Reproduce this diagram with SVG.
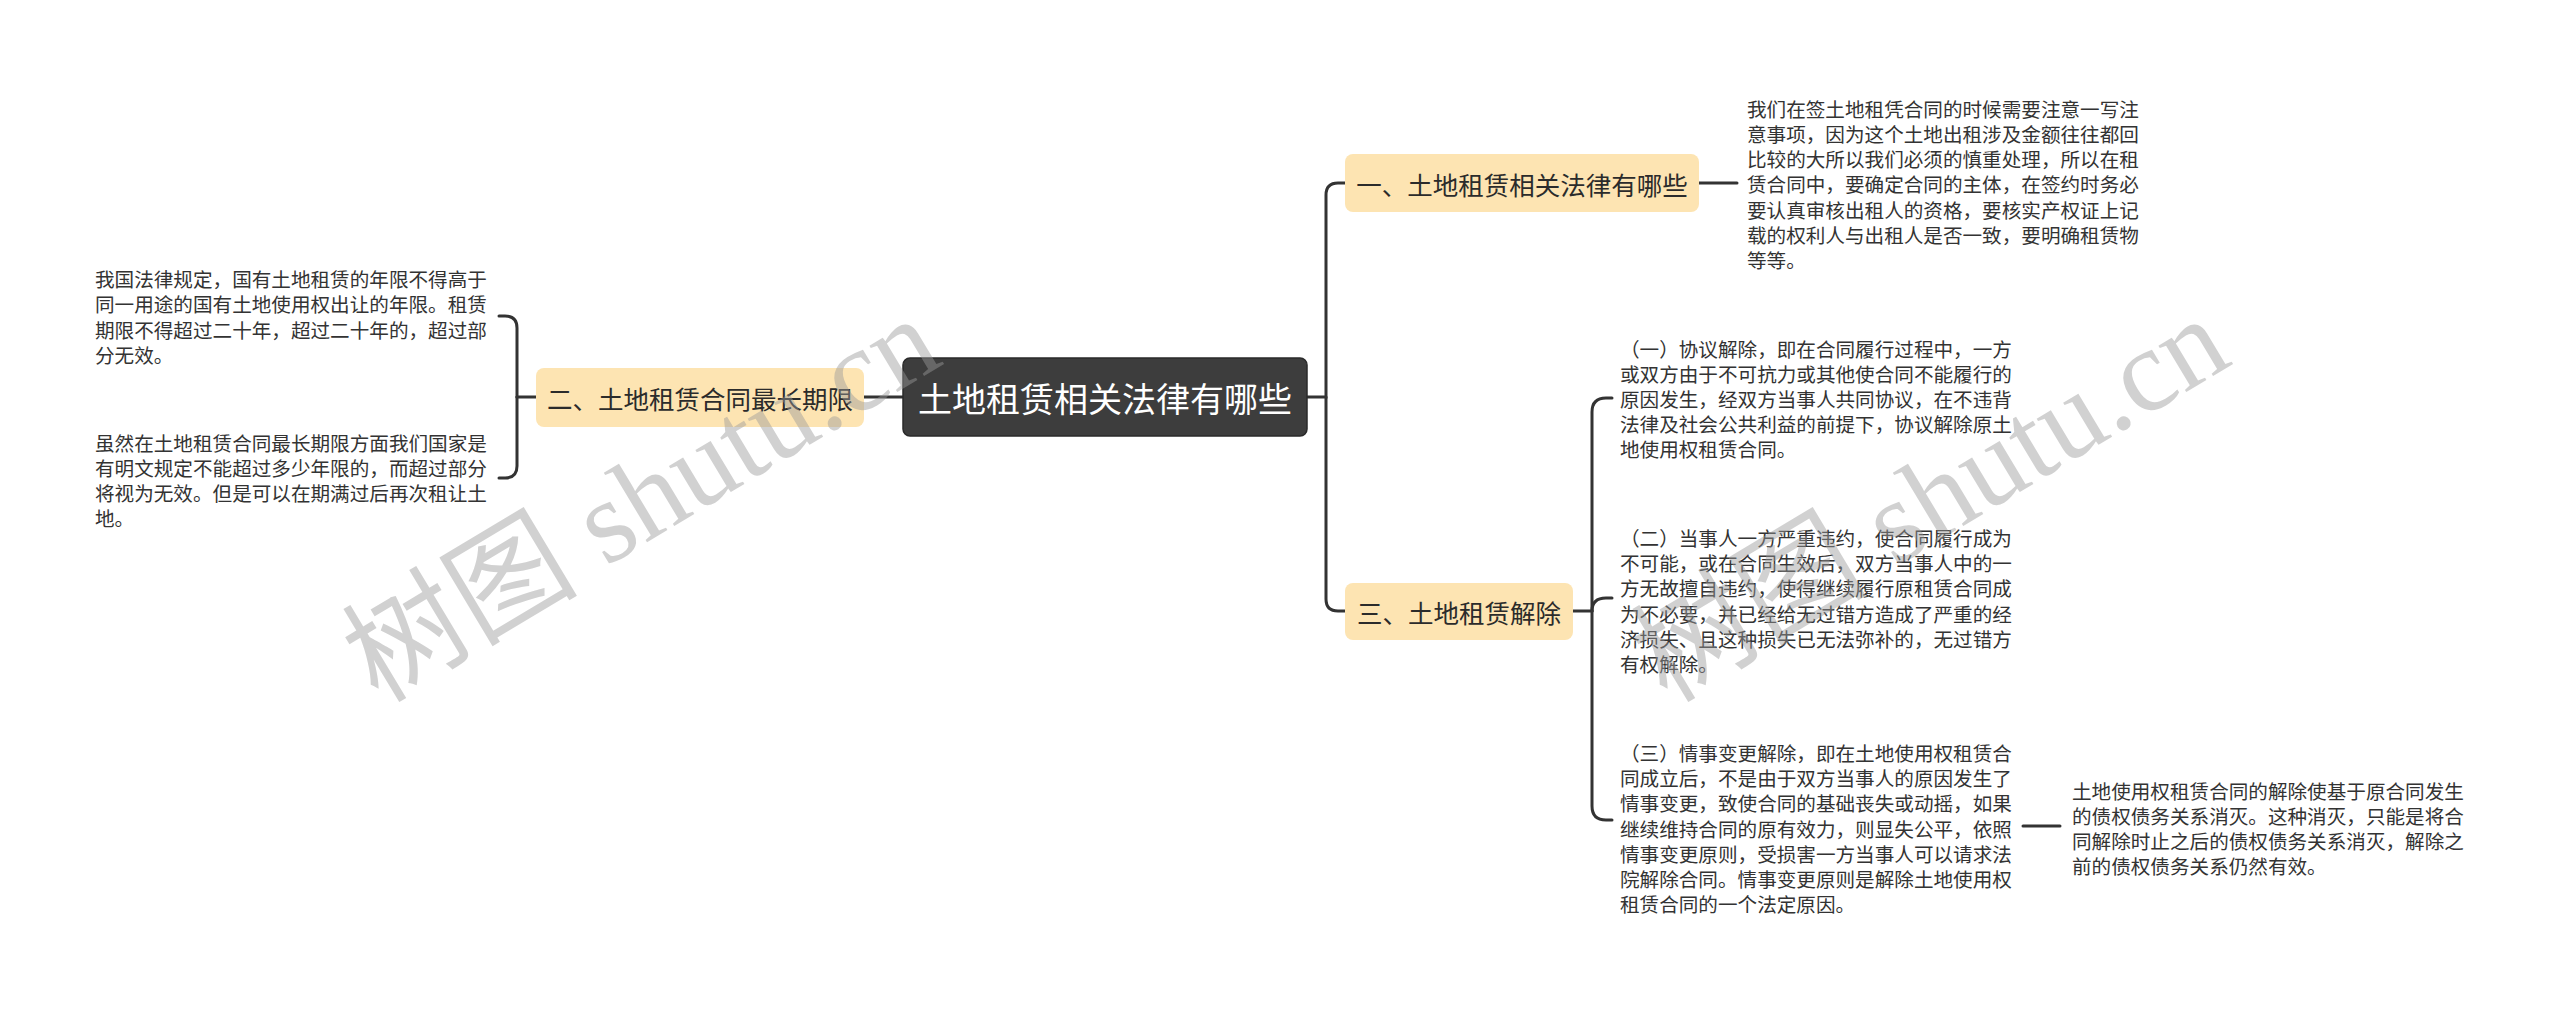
<svg xmlns="http://www.w3.org/2000/svg" width="2560" height="1009" viewBox="0 0 2560 1009">
<style>
.bg{fill:#ffffff}
.conn{fill:none;stroke:#333333;stroke-width:3;stroke-linecap:round}
.root{fill:#3d3d3d;stroke:#2a2a2a;stroke-width:1.5}
.main{fill:#fde4b2}
.t{font-family:"Noto Sans CJK SC","Noto Sans",sans-serif;dominant-baseline:central}
.rt{font-size:34px;fill:#ffffff;text-anchor:middle}
.mt{font-size:25.5px;fill:#2b2b2b;text-anchor:middle}
.bt{font-size:19.6px;fill:#333333}
.wm{font-family:"Liberation Serif","Noto Sans CJK SC",serif;font-size:118px;fill:#9a9a9a;opacity:0.45}
</style>
<rect class="bg" x="0" y="0" width="2560" height="1009"/>
<g id="connectors">
<path class="conn" d="M864 397 H903"/>
<path class="conn" d="M1307 397 H1326 V195 Q1326 183 1338 183 H1345"/>
<path class="conn" d="M1326 397 V599 Q1326 611 1338 611 H1345"/>
<path class="conn" d="M1699 183 H1737"/>
<path class="conn" d="M1573 611 H1592"/>
<path class="conn" d="M1592 611 V412 Q1592 398 1606 398 H1612"/>
<path class="conn" d="M1592 611 Q1592 598 1606 598 H1612"/>
<path class="conn" d="M1592 611 V806 Q1592 820 1606 820 H1612"/>
<path class="conn" d="M2023 826 H2060"/>
<path class="conn" d="M536 397 H517"/>
<path class="conn" d="M517 397 V328 Q517 316 505 316 H499"/>
<path class="conn" d="M517 397 V466 Q517 478 505 478 H499"/>
</g>
<g id="root">
<rect class="root" x="903" y="358" width="404" height="78" rx="7"/>
<text class="t rt" x="1105" y="397">土地租赁相关法律有哪些</text>
</g>
<g id="n1">
<rect class="main" x="1345" y="154" width="354" height="58" rx="8"/>
<text class="t mt" x="1522" y="183">一、土地租赁相关法律有哪些</text>
</g>
<g id="n2">
<rect class="main" x="536" y="368" width="328" height="59" rx="8"/>
<text class="t mt" x="700" y="397.5">二、土地租赁合同最长期限</text>
</g>
<g id="n3">
<rect class="main" x="1345" y="583" width="228" height="57" rx="8"/>
<text class="t mt" x="1459" y="611.5">三、土地租赁解除</text>
</g>
<g id="n1-1">
<text class="t bt" x="1747" y="107.8"><tspan x="1747">我们在签土地租凭合同的时候需要注意一写注</tspan><tspan x="1747" dy="25.2">意事项，因为这个土地出租涉及金额往往都回</tspan><tspan x="1747" dy="25.2">比较的大所以我们必须的慎重处理，所以在租</tspan><tspan x="1747" dy="25.2">赁合同中，要确定合同的主体，在签约时务必</tspan><tspan x="1747" dy="25.2">要认真审核出租人的资格，要核实产权证上记</tspan><tspan x="1747" dy="25.2">载的权利人与出租人是否一致，要明确租赁物</tspan><tspan x="1747" dy="25.2">等等。</tspan></text>
</g>
<g id="n2-1">
<text class="t bt" x="95" y="278.2"><tspan x="95">我国法律规定，国有土地租赁的年限不得高于</tspan><tspan x="95" dy="25.2">同一用途的国有土地使用权出让的年限。租赁</tspan><tspan x="95" dy="25.2">期限不得超过二十年，超过二十年的，超过部</tspan><tspan x="95" dy="25.2">分无效。</tspan></text>
</g>
<g id="n2-2">
<text class="t bt" x="95" y="441.7"><tspan x="95">虽然在土地租赁合同最长期限方面我们国家是</tspan><tspan x="95" dy="25.2">有明文规定不能超过多少年限的，而超过部分</tspan><tspan x="95" dy="25.2">将视为无效。但是可以在期满过后再次租让土</tspan><tspan x="95" dy="25.2">地。</tspan></text>
</g>
<g id="n3-1">
<text class="t bt" x="1620" y="347.6"><tspan x="1620">（一）协议解除，即在合同履行过程中，一方</tspan><tspan x="1620" dy="25.2">或双方由于不可抗力或其他使合同不能履行的</tspan><tspan x="1620" dy="25.2">原因发生，经双方当事人共同协议，在不违背</tspan><tspan x="1620" dy="25.2">法律及社会公共利益的前提下，协议解除原土</tspan><tspan x="1620" dy="25.2">地使用权租赁合同。</tspan></text>
</g>
<g id="n3-2">
<text class="t bt" x="1620" y="537"><tspan x="1620">（二）当事人一方严重违约，使合同履行成为</tspan><tspan x="1620" dy="25.2">不可能，或在合同生效后，双方当事人中的一</tspan><tspan x="1620" dy="25.2">方无故擅自违约，使得继续履行原租赁合同成</tspan><tspan x="1620" dy="25.2">为不必要，并已经给无过错方造成了严重的经</tspan><tspan x="1620" dy="25.2">济损失、且这种损失已无法弥补的，无过错方</tspan><tspan x="1620" dy="25.2">有权解除。</tspan></text>
</g>
<g id="n3-3">
<text class="t bt" x="1620" y="751.9"><tspan x="1620">（三）情事变更解除，即在土地使用权租赁合</tspan><tspan x="1620" dy="25.2">同成立后，不是由于双方当事人的原因发生了</tspan><tspan x="1620" dy="25.2">情事变更，致使合同的基础丧失或动摇，如果</tspan><tspan x="1620" dy="25.2">继续维持合同的原有效力，则显失公平，依照</tspan><tspan x="1620" dy="25.2">情事变更原则，受损害一方当事人可以请求法</tspan><tspan x="1620" dy="25.2">院解除合同。情事变更原则是解除土地使用权</tspan><tspan x="1620" dy="25.2">租赁合同的一个法定原因。</tspan></text>
</g>
<g id="n3-3-1">
<text class="t bt" x="2072" y="789.7"><tspan x="2072">土地使用权租赁合同的解除使基于原合同发生</tspan><tspan x="2072" dy="25.2">的债权债务关系消灭。这种消灭，只能是将合</tspan><tspan x="2072" dy="25.2">同解除时止之后的债权债务关系消灭，解除之</tspan><tspan x="2072" dy="25.2">前的债权债务关系仍然有效。</tspan></text>
</g>
<g id="watermarks">
<text class="wm" x="378" y="704" transform="rotate(-31 378 704)">树图 shutu.cn</text>
<text class="wm" x="1667" y="704" transform="rotate(-31 1667 704)">树图 shutu.cn</text>
</g>
</svg>
